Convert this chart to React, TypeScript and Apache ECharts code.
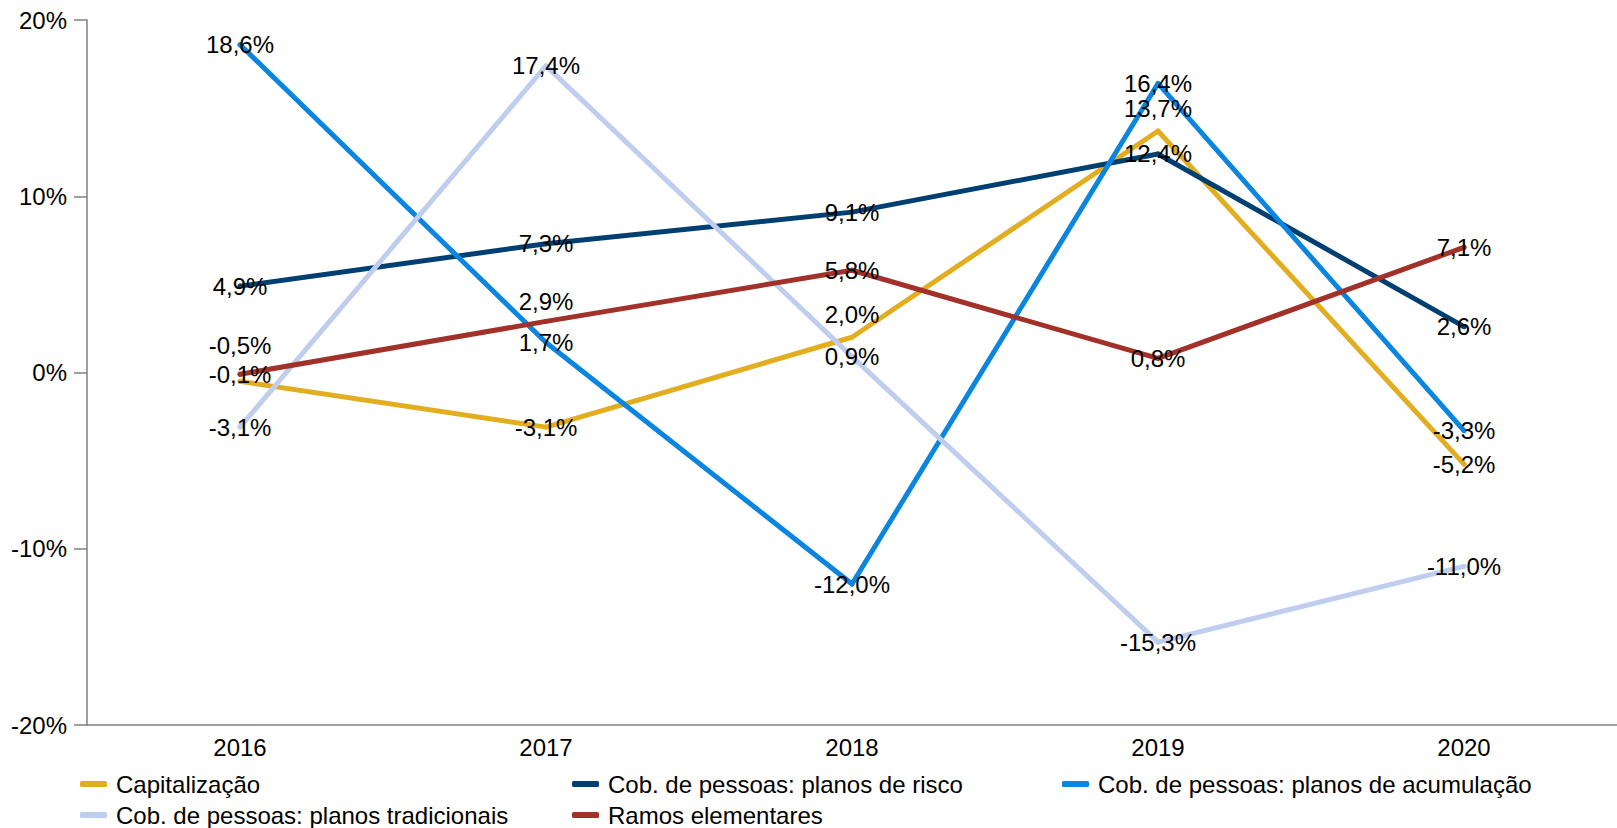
import React, { useEffect, useRef } from "react";
import * as echarts from "echarts";

const years = ["2016", "2017", "2018", "2019", "2020"];
const seriesNames = [
  "Capitalização",
  "Cob. de pessoas: planos de risco",
  "Cob. de pessoas: planos de acumulação",
  "Cob. de pessoas: planos tradicionais",
  "Ramos elementares",
];
const capitalizacao = [-0.5, -3.1, 2.0, 13.7, -5.2];
const planosRisco = [4.9, 7.3, 9.1, 12.4, 2.6];
const planosAcumulacao = [18.6, 1.7, -12.0, 16.4, -3.3];
const planosTradicionais = [-3.1, 17.4, 0.9, -15.3, -11.0];
const ramosElementares = [-0.1, 2.9, 5.8, 0.8, 7.1];
const yTicks = [-20, -10, 0, 10, 20];

const colors = ["#E3AD20", "#003F72", "#0A86E1", "#BFCDEE", "#A2312A"];
// vertical label shifts (px) to avoid overlaps, per series / point
const labelShift: number[][] = [
  [-36, 0, -23, -23, 0],
  [0, 0, 0, 0, 0],
  [0, 0, 0, 0, 0],
  [0, 0, 0, 0, 0],
  [0, -20, 0, 0, 0],
];

const FONT = 'Arial, "Liberation Sans", sans-serif';

export default function App() {
  const ref = useRef<HTMLDivElement>(null);
  useEffect(() => {
    if (!ref.current) return;
    const chart = echarts.init(ref.current, null, { renderer: "svg" });
    const allData = [capitalizacao, planosRisco, planosAcumulacao, planosTradicionais, ramosElementares];
    const fmt = (v: number) => v.toFixed(1).replace(".", ",") + "%";
    const series = allData.map((arr, si) => ({
      name: seriesNames[si],
      type: "line",
      data: arr.map((v, i) => ({
        value: v,
        label: { offset: [0, labelShift[si][i]] },
      })),
      symbol: "circle",
      symbolSize: 5,
      itemStyle: { color: colors[si] },
      lineStyle: { color: colors[si], width: 5, cap: "round", join: "round" },
      label: {
        show: true,
        position: "inside",
        color: "#000",
        fontSize: 24,
        fontFamily: FONT,
        formatter: (p: any) => fmt(p.value),
      },
      emphasis: { disabled: true },
    }));
    const legendPos = [
      { left: 80, top: 771 },
      { left: 572, top: 771 },
      { left: 1062, top: 771 },
      { left: 80, top: 802 },
      { left: 572, top: 802 },
    ];
    const legends = seriesNames.map((n, i) => ({
      data: [n],
      left: legendPos[i].left,
      top: legendPos[i].top,
      padding: 0,
      icon: "roundRect",
      itemWidth: 27,
      itemHeight: 6,
      selectedMode: false,
      itemStyle: { borderWidth: 0 },
      textStyle: { color: "#000", fontSize: 24, fontFamily: FONT, lineHeight: 26, padding: [0, 0, 0, 4] },
    }));
    chart.setOption({
      animation: false,
      backgroundColor: "#fff",
      textStyle: { fontFamily: FONT },
      grid: { left: 87, right: 0, top: 20, bottom: 103, containLabel: false },
      legend: legends,
      xAxis: {
        type: "category",
        data: years,
        boundaryGap: true,
        axisLine: { onZero: false, lineStyle: { color: "#808080", width: 1.5 } },
        axisTick: { show: false },
        axisLabel: { color: "#000", fontSize: 24, fontFamily: FONT, margin: 10 },
      },
      yAxis: {
        type: "value",
        min: yTicks[0],
        max: yTicks[yTicks.length - 1],
        interval: 10,
        axisLine: { show: true, lineStyle: { color: "#808080", width: 1.5 } },
        axisTick: { show: true, length: 13, lineStyle: { color: "#808080", width: 1.5 } },
        splitLine: { show: false },
        axisLabel: {
          color: "#000",
          fontSize: 24,
          fontFamily: FONT,
          margin: 20,
          formatter: (v: number) => v + "%",
        },
      },
      series,
    });
    return () => chart.dispose();
  }, []);
  return (
    <div
      ref={ref}
      style={{ position: "fixed", left: 0, top: 0, width: 1617, height: 828 }}
    />
  );
}
